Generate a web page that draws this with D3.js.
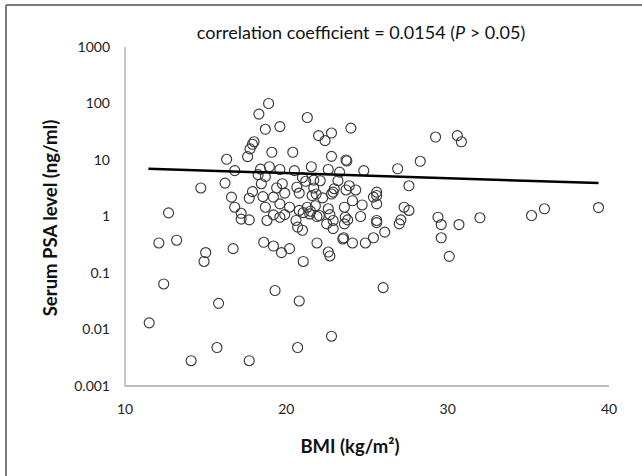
<!DOCTYPE html>
<html>
<head>
    <script src="https://d3js.org/d3.v7.min.js"></script>
    <style>
        body { margin: 0; background: white; font-family: Lato, "Open Sans", sans-serif; }
        svg { display: block; }
        .frame { stroke: #7a7a7a; stroke-width: 2px; }
        .axis-line { stroke: #a6a6a6; stroke-width: 1.3px; }
        .tick-label { font-size: 14px; fill: #222; }
        .axis-title { font-size: 18.5px; font-weight: bold; fill: #111; }
        .chart-title { font-size: 18px; fill: #111; }
        .dot { fill: none; stroke: #3a3a3a; stroke-width: 1.15px; }
        .trend { stroke: black; stroke-width: 2.5px; fill: none; }
    </style>
</head>
<body>
    <svg width="642" height="476"></svg>
    <script>
        // BMI (x) and serum PSA (y)
        let bmi = [18.9, 18.3, 19.6, 18.7, 18.0, 17.9, 17.75, 19.1, 20.4, 17.6,
                   16.3, 16.8, 18.4, 18.95, 19.6, 20.5, 18.25, 18.7, 18.45, 16.2,
                   14.7, 19.4, 19.75, 20.65, 17.9, 19.9, 20.8, 16.6, 17.7, 18.55,
                   19.6, 16.8, 18.7, 20.2, 20.8, 17.2, 19.2, 19.9, 19.6, 12.7,
                   17.2, 17.7, 18.8, 20.6, 20.7, 12.1, 13.2, 18.6, 19.2, 19.7,
                   20.2, 16.7, 15.0, 14.9, 12.4, 15.8, 19.3, 20.8, 11.5, 15.7,
                   14.1, 17.7, 20.7, 21.05, 21.9, 22.6, 22.7, 24.1, 24.9, 29.6,
                   30.1, 26.0, 22.8, 21.3, 24.0, 22.0, 22.8, 22.4, 29.25, 30.6,
                   30.85, 22.8, 23.7, 23.75, 28.3, 21.55, 22.6, 23.3, 24.8, 26.9,
                   21.0, 21.2, 22.1, 23.2, 27.6, 21.7, 21.85, 21.6, 22.25, 22.9,
                   22.97, 23.7, 23.9, 24.3, 24.1, 22.8, 25.4, 25.6, 25.6, 25.6,
                   24.7, 21.3, 21.5, 21.45, 21.05, 22.05, 22.6, 22.7, 23.6, 23.65,
                   24.6, 25.6, 25.6, 27.3, 27.6, 27.1, 27.0, 29.4, 29.6, 30.7,
                   22.9, 22.5, 23.6, 23.8, 23.5, 23.55, 25.4, 26.1, 21.0,
                   39.35, 36.0, 35.2, 32.0, 21.7, 19.2, 21.8, 21.9, 22.9];
        let psa = [100, 65, 39, 35, 21, 19, 15.7, 13.7, 13.7, 11.5,
                   10.3, 6.5, 6.9, 7.6, 6.8, 6.5, 5.5, 5.1, 3.8, 3.9,
                   3.2, 3.2, 3.8, 3.3, 2.75, 2.6, 2.6, 2.2, 2.1, 2.25,
                   1.67, 1.46, 1.46, 1.46, 1.28, 1.14, 1.07, 1.08, 0.97, 1.16,
                   0.9, 0.87, 0.85, 0.85, 0.65, 0.34, 0.38, 0.35, 0.30, 0.23,
                   0.27, 0.27, 0.23, 0.16, 0.064, 0.029, 0.049, 0.032, 0.0131, 0.0048,
                   0.0028, 0.0028, 0.0048, 0.16, 0.34, 0.235, 0.20, 0.34, 0.34, 0.42,
                   0.197, 0.055, 0.0076, 56.5, 36.7, 27, 30, 22, 25.5, 27,
                   21, 11.6, 10, 9.6, 9.5, 7.6, 6.8, 6.1, 6.5, 7.0,
                   4.9, 4.2, 4.3, 4.3, 3.5, 3.2, 2.5, 2.35, 2.14, 2.7,
                   3.1, 2.95, 3.5, 2.95, 1.9, 2.5, 2.2, 2.7, 2.35, 1.67,
                   1.6, 1.46, 1.24, 1.11, 1.17, 1.04, 1.37, 1.08, 1.46, 0.97,
                   1.0, 0.85, 0.78, 1.46, 1.28, 0.87, 0.74, 0.97, 0.72, 0.72,
                   0.61, 0.74, 0.74, 0.87, 0.40, 0.42, 0.42, 0.53, 0.57,
                   1.44, 1.37, 1.04, 0.95, 4.4, 2.2, 1.55, 1.0, 0.85];

        // trend line end points
        let trendX = [11.45, 39.35];
        let trendY = [7.0, 3.9];

        let xTicks = [10, 20, 30, 40];
        let yTicks = [0.001, 0.01, 0.1, 1, 10, 100, 1000];
        let yTickLabels = ["0.001", "0.01", "0.1", "1", "10", "100", "1000"];

        let svg = d3.select("svg");
        let plotLeft = 125, plotRight = 609, plotTop = 47, plotBottom = 386;

        let x = d3.scaleLinear().domain([10, 40]).range([plotLeft, plotRight]);
        let y = d3.scaleLog().domain([0.001, 1000]).range([plotBottom, plotTop]);

        // outer frame (only top and left edges show)
        svg.append("line").attr("class", "frame")
            .attr("x1", 6).attr("y1", 5).attr("x2", 642).attr("y2", 5);
        svg.append("line").attr("class", "frame")
            .attr("x1", 6).attr("y1", 5).attr("x2", 6).attr("y2", 476);

        // axes
        svg.append("line").attr("class", "axis-line")
            .attr("x1", plotLeft).attr("y1", plotTop).attr("x2", plotLeft).attr("y2", plotBottom);
        svg.append("line").attr("class", "axis-line")
            .attr("x1", plotLeft).attr("y1", plotBottom).attr("x2", plotRight).attr("y2", plotBottom);

        svg.selectAll(".ylab")
            .data(yTicks)
            .enter().append("text")
            .attr("class", "tick-label")
            .attr("x", plotLeft - 15)
            .attr("y", d => y(d))
            .attr("dy", "0.35em")
            .attr("text-anchor", "end")
            .text((d, i) => yTickLabels[i]);

        svg.selectAll(".xlab")
            .data(xTicks)
            .enter().append("text")
            .attr("class", "tick-label")
            .attr("x", d => x(d))
            .attr("y", plotBottom + 28)
            .attr("text-anchor", "middle")
            .text(d => d);

        // points
        svg.selectAll(".dot")
            .data(bmi)
            .enter().append("circle")
            .attr("class", "dot")
            .attr("cx", d => x(d))
            .attr("cy", (d, i) => y(psa[i]))
            .attr("r", 5);

        // trend line
        let line = d3.line()
            .x(d => x(d[0]))
            .y(d => y(d[1]));
        svg.append("path")
            .attr("class", "trend")
            .attr("d", line(d3.zip(trendX, trendY)));

        // titles
        let title = svg.append("text")
            .attr("class", "chart-title")
            .attr("x", 361)
            .attr("y", 39)
            .attr("text-anchor", "middle");
        title.append("tspan").text("correlation coefficient = 0.0154 (");
        title.append("tspan").attr("font-style", "italic").text("P");
        title.append("tspan").text(" > 0.05)");

        svg.append("text")
            .attr("class", "axis-title")
            .attr("x", 350)
            .attr("y", 453)
            .attr("text-anchor", "middle")
            .text("BMI (kg/m²)");

        svg.append("text")
            .attr("class", "axis-title")
            .attr("transform", "translate(57," + 218 + ") rotate(-90)")
            .attr("text-anchor", "middle")
            .text("Serum PSA level (ng/ml)");
    </script>
</body>
</html>
